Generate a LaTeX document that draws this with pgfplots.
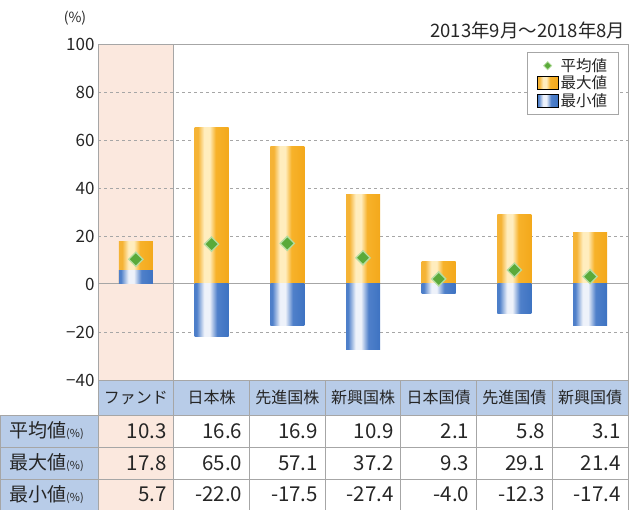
\documentclass[border=0pt]{standalone}
\usepackage{pgfplots}
\pgfplotsset{compat=1.18}
\usepackage{fontspec}
\setmainfont{Noto Sans CJK JP}
\definecolor{peach}{HTML}{FBE8DE}
\definecolor{hblue}{HTML}{B8CCE8}
\definecolor{lgray}{HTML}{A6A6A6}
\definecolor{oA}{HTML}{F5B335}
\definecolor{oW}{HTML}{FFEDBE}
\definecolor{oB}{HTML}{F7B22A}
\definecolor{oC}{HTML}{EE9C08}
\definecolor{bA}{HTML}{3A6EBE}
\definecolor{bW}{HTML}{EEF2FA}
\definecolor{bB}{HTML}{4F80CA}
\definecolor{bC}{HTML}{2460B6}
\definecolor{mgreen}{HTML}{5AAA3A}
\definecolor{mgreenl}{HTML}{B5DDA0}
\pgfdeclarehorizontalshading{obar}{100bp}{color(0bp)=(oA); color(30bp)=(oA); color(39bp)=(oW); color(47bp)=(oW); color(56bp)=(oB); color(100bp)=(oC)}
\pgfdeclarehorizontalshading{bbar}{100bp}{color(0bp)=(bA); color(28bp)=(bB); color(39bp)=(bW); color(47bp)=(bW); color(58bp)=(bB); color(100bp)=(bC)}
\pgfplotsset{
  maxbar/.style={ybar, bar width=34pt, draw=none, shade, shading=obar, forget plot},
  minbar/.style={ybar, bar width=34pt, draw=none, shade, shading=bbar, forget plot},
}
\begin{document}
\begin{tikzpicture}
\path[use as bounding box] (0pt,0pt) rectangle (629pt,510pt);
\fill[peach] (98pt,130pt) rectangle (173.71pt,466pt);
\begin{axis}[
  at={(98pt,130pt)}, anchor=south west,
  scale only axis, width=530pt, height=336pt,
  xmin=-0.5, xmax=6.5, ymin=-40, ymax=100,
  xtick=\empty,
  extra x ticks={0.5}, extra x tick labels={},
  extra x tick style={xmajorgrids=true, major grid style={solid, lgray, line width=1pt}},
  ytick={-40,-20,20,40,60,80,100},
  yticklabels={−40,−20,20,40,60,80,100},
  extra y ticks={0}, extra y tick labels={0},
  extra y tick style={ymajorgrids=true, major grid style={solid, lgray, line width=1pt}},
  yticklabel style={font=\fontsize{17}{17}\selectfont, text=black!85},
  ymajorgrids, major grid style={dashed, lgray, line width=0.7pt},
  axis line style={lgray, line width=0.9pt},
  major tick style={draw=none},
  clip=false,
  legend cell align=left,
  legend style={at={(rel axis cs:0.982,0.976)}, anchor=north east, draw=lgray, line width=0.8pt,
    font=\fontsize{15.5}{16}\selectfont, text=black!85, row sep=-1pt, inner xsep=9pt, inner ysep=4pt},
]
% maximum values
\addplot[maxbar] coordinates {(0,17.8)};
\addplot[maxbar] coordinates {(1,65.0)};
\addplot[maxbar] coordinates {(2,57.1)};
\addplot[maxbar] coordinates {(3,37.2)};
\addplot[maxbar] coordinates {(4,9.3)};
\addplot[maxbar] coordinates {(5,29.1)};
\addplot[maxbar] coordinates {(6,21.4)};
% minimum values
\addplot[minbar] coordinates {(0,5.7)};
\addplot[minbar] coordinates {(1,-22.0)};
\addplot[minbar] coordinates {(2,-17.5)};
\addplot[minbar] coordinates {(3,-27.4)};
\addplot[minbar] coordinates {(4,-4.0)};
\addplot[minbar] coordinates {(5,-12.3)};
\addplot[minbar] coordinates {(6,-17.4)};
% mean values
\addplot[only marks, mark=square*, mark size=5pt, mark options={rotate=45, fill=mgreen, draw=mgreenl, line width=1.3pt}, forget plot]
  coordinates {(0,10.3) (1,16.6) (2,16.9) (3,10.9) (4,2.1) (5,5.8) (6,3.1)};
\addlegendimage{legend image code/.code={\draw[fill=mgreen, draw=mgreenl, line width=0.8pt] (10.5pt,-4pt) -- (14.5pt,0pt) -- (10.5pt,4pt) -- (6.5pt,0pt) -- cycle;}}
\addlegendentry{平均値}
\addlegendimage{legend image code/.code={\shade[shading=obar] (0pt,-6.5pt) rectangle (21pt,6.5pt);}}
\addlegendentry{最大値}
\addlegendimage{legend image code/.code={\shade[shading=bbar] (0pt,-6.5pt) rectangle (21pt,6.5pt);}}
\addlegendentry{最小値}
\end{axis}
% labels above the axis
\node[font=\fontsize{14}{14}\selectfont, text=black!85] at (75pt,492pt) {(\%)};
\node[anchor=east, font=\fontsize{18.5}{18.5}\selectfont, text=black!85] at (629pt,480pt) {2013年9月〜2018年8月};
% table
\fill[hblue] (98pt,95pt) rectangle (628pt,130pt);
\fill[hblue] (0pt,0pt) rectangle (98pt,95pt);
\fill[peach] (98pt,0pt) rectangle (173.71pt,95pt);
\foreach \yy in {0,31,63,95} {\draw[lgray, line width=0.8pt] (0pt,\yy pt) -- (628pt,\yy pt);}
\draw[lgray, line width=0.8pt] (98pt,130pt) -- (628pt,130pt);
\foreach \xx in {98,173.71,249.43,325.14,400.86,476.57,552.29,628} {\draw[lgray, line width=0.8pt] (\xx pt,0pt) -- (\xx pt,130pt);}
\draw[lgray, line width=0.8pt] (0pt,0pt) -- (0pt,95pt);
% header
\foreach \nm [count=\i from 0] in {ファンド,日本株,先進国株,新興国株,日本国債,先進国債,新興国債} {
  \node[font=\fontsize{16}{16}\selectfont, text=black!85] at ({(135.86+\i*75.714)*1pt},112.5pt) {\nm};
}
% row labels
\node[anchor=west, inner sep=0pt, text=black!85] at (9pt,79pt) {\fontsize{19}{19}\selectfont 平均値\fontsize{11}{11}\selectfont(\%)};
\node[anchor=west, inner sep=0pt, text=black!85] at (9pt,47pt) {\fontsize{19}{19}\selectfont 最大値\fontsize{11}{11}\selectfont(\%)};
\node[anchor=west, inner sep=0pt, text=black!85] at (9pt,15.5pt) {\fontsize{19}{19}\selectfont 最小値\fontsize{11}{11}\selectfont(\%)};
% values
\foreach \v [count=\i from 1] in {10.3,16.6,16.9,10.9,2.1,5.8,3.1} {
  \node[anchor=east, inner sep=0pt, font=\fontsize{20.5}{20.5}\selectfont, text=black!85] at ({(91+\i*75.714)*1pt},79pt) {\v};
}
\foreach \v [count=\i from 1] in {17.8,65.0,57.1,37.2,9.3,29.1,21.4} {
  \node[anchor=east, inner sep=0pt, font=\fontsize{20.5}{20.5}\selectfont, text=black!85] at ({(91+\i*75.714)*1pt},47pt) {\v};
}
\foreach \v [count=\i from 1] in {5.7,-22.0,-17.5,-27.4,-4.0,-12.3,-17.4} {
  \node[anchor=east, inner sep=0pt, font=\fontsize{20.5}{20.5}\selectfont, text=black!85] at ({(91+\i*75.714)*1pt},15.5pt) {\v};
}
\end{tikzpicture}
\end{document}
